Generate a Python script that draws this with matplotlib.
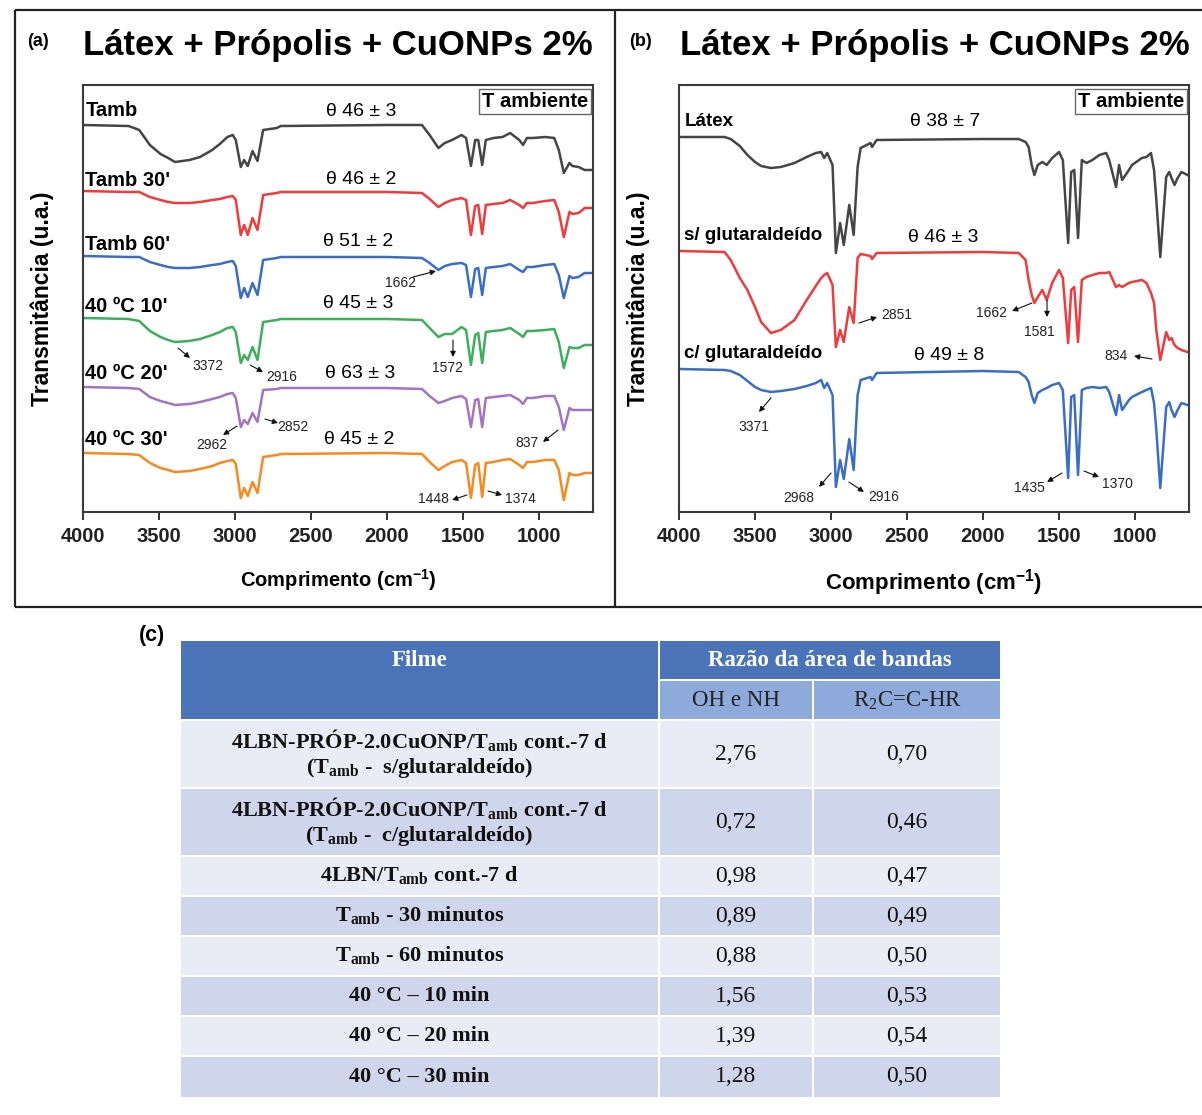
import matplotlib
matplotlib.use("Agg")
import matplotlib.pyplot as plt
from matplotlib.patches import Rectangle

plt.rcParams['font.family'] = ['Liberation Sans', 'DejaVu Sans']

# ---------------- data: panel (a) ----------------
wn_a = [4000, 3700, 3630, 3560, 3490, 3440, 3395, 3300, 3230, 3150,
        3100, 3050, 3015, 2995, 2962, 2940,
        2916, 2885, 2852, 2815, 2725, 2700, 2000, 1770, 1720, 1662,
        1620, 1572, 1510, 1480, 1448, 1420, 1400, 1374, 1350, 1300,
        1240, 1190, 1130, 1105, 1080, 1040, 960, 900, 870, 837,
        800, 780, 740, 700, 650]
t_tamb = [387, 386, 382, 367, 358, 354, 350, 352, 355, 362, 368, 375, 377, 372,
          345, 352, 346, 361, 351, 382, 384, 386, 387, 387, 377, 364,
          369, 372, 377, 374, 346, 372, 372, 347, 372, 374,
          375, 379, 372, 367, 374, 374, 375, 374, 362, 339,
          349, 346, 345, 342, 342]
t_tamb30 = [321, 320, 320, 315, 312, 310, 309, 309, 310, 312, 313, 315, 316, 312,
            277, 287, 277, 294, 282, 317, 319, 320, 320, 319, 313, 305,
            309, 312, 314, 312, 277, 306, 307, 278, 307, 308,
            309, 312, 307, 304, 309, 309, 311, 312, 300, 275,
            300, 298, 299, 304, 304]
t_tamb60 = [256, 255, 255, 250, 247, 245, 244, 244, 245, 247, 248, 250, 251, 246,
            214, 224, 215, 229, 217, 252, 254, 255, 255, 254, 249, 242,
            246, 248, 249, 247, 215, 243, 244, 217, 244, 245,
            246, 248, 242, 240, 245, 245, 247, 248, 237, 214,
            236, 234, 235, 239, 239]
t_40c10 = [194, 193, 191, 181, 175, 172, 170, 171, 173, 177, 180, 184, 185, 180,
           149, 157, 152, 165, 152, 190, 192, 193, 193, 192, 184, 175,
           178, 178, 185, 182, 147, 177, 179, 149, 180, 181,
           182, 184, 178, 175, 181, 181, 182, 183, 170, 144,
           165, 164, 164, 167, 167]
t_40c20 = [125, 124, 123, 115, 111, 109, 107, 108, 110, 113, 115, 118, 119, 114,
           85, 92, 88, 99, 90, 122, 123, 124, 124, 123, 116, 109,
           111, 114, 116, 113, 85, 112, 113, 85, 114, 115,
           116, 117, 112, 108, 114, 114, 116, 116, 105, 82,
           104, 102, 102, 102, 102]
t_40c30 = [59, 58, 57, 49, 44, 42, 40, 41, 43, 46, 49, 51, 52, 48,
           14, 24, 16, 30, 19, 55, 57, 58, 59, 58, 50, 42,
           46, 50, 52, 49, 14, 47, 49, 15, 49, 50,
           52, 53, 47, 44, 50, 50, 52, 52, 42, 12,
           39, 37, 37, 39, 39]
labels_a = ["Tamb", "Tamb 30'", "Tamb 60'", "40 ºC 10'", "40 ºC 20'", "40 ºC 30'"]
theta_a = ["θ 46 ± 3", "θ 46 ± 2", "θ 51 ± 2", "θ 45 ± 3", "θ 63 ± 3", "θ 45 ± 2"]
series_a = [t_tamb, t_tamb30, t_tamb60, t_40c10, t_40c20, t_40c30]

# ---------------- data: panel (b) ----------------
wn_b = [4000, 3700, 3660, 3600, 3550, 3500, 3460, 3395, 3330, 3240,
        3160, 3100, 3065, 3045, 3025,
        2990, 2968, 2940, 2916, 2880, 2851, 2825, 2805, 2740, 2730,
        2700, 2000, 1765, 1720, 1700, 1680, 1662, 1640, 1610, 1581,
        1545, 1500, 1475, 1440, 1420, 1400, 1375, 1350, 1320, 1280,
        1235, 1190, 1170, 1125, 1105, 1085, 1040, 1020, 955, 925,
        895, 875, 860, 834, 795, 775, 760, 740, 720, 695, 655]
t_latex = [375, 375, 373, 366, 357, 350, 346, 344, 345, 349, 355, 359, 360, 354, 359,
           347, 259, 289, 267, 307, 277, 345, 364, 369, 365,
           372, 373, 373, 370, 365, 347, 337, 347, 350, 347,
           354, 360, 352, 269, 340, 342, 274, 352, 349, 352,
           357, 359, 352, 325, 347, 332, 342, 347, 354, 355,
           359, 342, 312, 255, 335, 340, 334, 327, 334, 340, 337]
t_sglut = [261, 260, 252, 234, 222, 205, 190, 179, 182, 192, 212, 226, 234, 237, 239,
           227, 165, 182, 170, 205, 189, 254, 258, 256, 253,
           259, 260, 259, 252, 232, 217, 209, 215, 222, 212,
           229, 242, 234, 169, 222, 225, 170, 232, 235, 237,
           239, 239, 240, 225, 227, 225, 229, 230, 232, 229,
           219, 209, 182, 152, 180, 172, 174, 167, 164, 162, 160]
t_cglut = [143, 142, 141, 137, 131, 125, 122, 120, 121, 123, 126, 129, 132, 124, 129,
           117, 25, 52, 33, 73, 42, 117, 132, 135, 132,
           139, 141, 140, 135, 130, 117, 109, 119, 122, 124,
           127, 129, 122, 34, 115, 117, 37, 122, 124, 125,
           124, 125, 120, 97, 117, 102, 112, 115, 120, 122,
           124, 109, 82, 24, 105, 110, 102, 95, 102, 109, 107]
labels_b = ["Látex", "s/ glutaraldeído", "c/ glutaraldeído"]
theta_b = ["θ 38 ± 7", "θ 46 ± 3", "θ 49 ± 8"]
series_b = [t_latex, t_sglut, t_cglut]

# ---------------- data: table (c) ----------------
film_names = [
    [r"4LBN-PRÓP-2.0CuONP/T$_{\mathregular{amb}}$ cont.-7 d", r"(T$_{\mathregular{amb}}$ -  s/glutaraldeído)"],
    [r"4LBN-PRÓP-2.0CuONP/T$_{\mathregular{amb}}$ cont.-7 d", r"(T$_{\mathregular{amb}}$ -  c/glutaraldeído)"],
    [r"4LBN/T$_{\mathregular{amb}}$ cont.-7 d"],
    [r"T$_{\mathregular{amb}}$ - 30 minutos"],
    [r"T$_{\mathregular{amb}}$ - 60 minutos"],
    ["40 °C – 10 min"],
    ["40 °C – 20 min"],
    ["40 °C – 30 min"],
]
ratio_ohnh = ["2,76", "0,72", "0,98", "0,89", "0,88", "1,56", "1,39", "1,28"]
ratio_r2c = ["0,70", "0,46", "0,47", "0,49", "0,50", "0,53", "0,54", "0,50"]

# ---------------- styling / layout ----------------
colors_a = ['#454545', '#F03A3C', '#3A6EC4', '#3DAF5B', '#A374C4', '#F7891E']
colors_b = ['#454545', '#F03A3C', '#3A6EC4']
W, H = 1202, 1115
fig = plt.figure(figsize=(W / 100, H / 100), dpi=100)
bg = fig.add_axes([0, 0, 1, 1])
bg.set_xlim(0, W)
bg.set_ylim(H, 0)
bg.axis('off')

fr = dict(color='#222222', lw=1.6, solid_capstyle='butt')
bg.plot([15, W], [10, 10], **fr)
bg.plot([15, W], [607, 607], **fr)
bg.plot([15, 15], [10, 607], **fr)
bg.plot([615, 615], [10, 607], **fr)


def px_axes(x0, y0, x1, y1):
    return fig.add_axes([x0 / W, 1 - y1 / H, (x1 - x0) / W, (y1 - y0) / H])


def style_axes(ax, xlabel_size):
    ax.set_xlim(4000, 645)
    ax.set_ylim(0, 427)
    ax.set_yticks([])
    ax.set_xticks([4000, 3500, 3000, 2500, 2000, 1500, 1000])
    ax.tick_params(axis='x', direction='out', length=6, width=1.3, colors='#222222',
                   labelsize=14.5, pad=5)
    for lab in ax.get_xticklabels():
        lab.set_fontweight('bold')
    for s in ax.spines.values():
        s.set_color('#3a3a3a')
        s.set_linewidth(1.5)
    ax.set_xlabel(r"Comprimento (cm$^{\mathregular{-1}}$)", fontsize=xlabel_size,
                  fontweight='bold', labelpad=15)
    ax.set_ylabel("Transmitância (u.a.)", fontsize=16.5, fontweight='bold', labelpad=21)


def arrow(ax, tail, head):
    ax.annotate('', xy=head, xytext=tail,
                arrowprops=dict(arrowstyle='-|>', color='#111111', lw=0.8,
                                mutation_scale=8, shrinkA=0, shrinkB=0))


# ---------------- panel (a) ----------------
axa = px_axes(83, 85, 593, 512)
for t, c in zip(series_a, colors_a):
    axa.plot(wn_a, t, color=c, lw=1.8, solid_joinstyle='round')
style_axes(axa, 14.5)
lab_T_a = [401, 332, 267, 205, 138, 72]
theta_pos_a = [(2171, 401), (2171, 333), (2191, 270), (2191, 208), (2180, 138), (2180, 72)]
for lab, ty, th, (tx, tty) in zip(labels_a, lab_T_a, theta_a, theta_pos_a):
    axa.text(3985, ty, lab, fontsize=14.5, fontweight='bold', ha='left', va='center')
    axa.text(tx, tty, th, fontsize=14, ha='center', va='center')
axa.text(0.99, 0.962, "T ambiente", transform=axa.transAxes, fontsize=14.5,
         fontweight='bold', ha='right', va='center',
         bbox=dict(boxstyle='square,pad=0.15', fc='white', ec='#666666', lw=1))
ann_a = [("1662", (1914, 229), (1829, 235), (1678, 241)),
         ("3372", (3178, 146), (3375, 164), (3296, 154)),
         ("2916", (2691, 135), (2901, 147), (2816, 140)),
         ("2962", (3151, 67), (2987, 86), (3079, 77)),
         ("2852", (2618, 85), (2803, 93), (2717, 89)),
         ("1572", (1605, 144), (1566, 172), (1566, 155)),
         ("837", (1079, 69), (875, 82), (974, 70)),
         ("1448", (1697, 13), (1474, 17), (1572, 12)),
         ("1374", (1125, 13), (1336, 21), (1243, 17))]
for lab, tp, tail, head in ann_a:
    axa.text(tp[0], tp[1], lab, fontsize=10, ha='center', va='center', color='#222222')
    arrow(axa, tail, head)

# ---------------- panel (b) ----------------
axb = px_axes(679, 85, 1189, 512)
for t, c in zip(series_b, colors_b):
    axb.plot(wn_b, t, color=c, lw=1.8, solid_joinstyle='round')
style_axes(axb, 16)
lab_T_b = [390, 277, 158]
theta_pos_b = [(2250, 390), (2263, 275), (2224, 156)]
for lab, ty, th, (tx, tty) in zip(labels_b, lab_T_b, theta_b, theta_pos_b):
    axb.text(3965, ty, lab, fontsize=13.5, fontweight='bold', ha='left', va='center')
    axb.text(tx, tty, th, fontsize=14, ha='center', va='center')
axb.text(0.99, 0.962, "T ambiente", transform=axb.transAxes, fontsize=14.5,
         fontweight='bold', ha='right', va='center',
         bbox=dict(boxstyle='square,pad=0.15', fc='white', ec='#666666', lw=1))
ann_b = [("2851", (2566, 197), (2816, 189), (2697, 195)),
         ("3371", (3507, 85), (3395, 114), (3474, 100)),
         ("2968", (3211, 14), (3000, 39), (3079, 25)),
         ("2916", (2651, 15), (2882, 30), (2783, 20)),
         ("1662", (1941, 199), (1678, 209), (1809, 201)),
         ("1581", (1632, 180), (1579, 212), (1579, 195)),
         ("834", (1125, 156), (888, 153), (1007, 156)),
         ("1435", (1697, 24), (1480, 39), (1579, 30)),
         ("1370", (1118, 28), (1336, 41), (1237, 35))]
for lab, tp, tail, head in ann_b:
    axb.text(tp[0], tp[1], lab, fontsize=10, ha='center', va='center', color='#222222')
    arrow(axb, tail, head)

# titles
bg.text(38, 42, "(a)", fontsize=13, fontweight='bold', ha='center', va='center')
bg.text(641, 42, "(b)", fontsize=13, fontweight='bold', ha='center', va='center')
bg.text(338, 46, "Látex + Própolis + CuONPs 2%", fontsize=25, fontweight='bold',
        ha='center', va='center')
bg.text(935, 46, "Látex + Própolis + CuONPs 2%", fontsize=25, fontweight='bold',
        ha='center', va='center')

# ---------------- table (c) ----------------
bg.text(152, 636, "(c)", fontsize=15.5, fontweight='bold', ha='center', va='center')
serif = ['Liberation Serif', 'DejaVu Serif']
c_head = '#4A73B8'
c_sub = '#8EAADB'
c_light = '#E9EBF5'
c_dark = '#CFD5EA'
cx = [181, 658, 812, 1000]
gap = 2
bg.add_patch(Rectangle((cx[0], 641), cx[1] - cx[0], 78, fc=c_head, ec='none'))
bg.add_patch(Rectangle((cx[1] + gap, 641), cx[3] - cx[1] - gap, 38, fc=c_head, ec='none'))
bg.add_patch(Rectangle((cx[1] + gap, 681), cx[2] - cx[1] - gap, 38, fc=c_sub, ec='none'))
bg.add_patch(Rectangle((cx[2] + gap, 681), cx[3] - cx[2] - gap, 38, fc=c_sub, ec='none'))
bg.text((cx[0] + cx[1]) / 2, 661, "Filme", family=serif, fontsize=16.5, fontweight='bold',
        color='white', ha='center', va='center')
bg.text((cx[1] + cx[3]) / 2 + 1, 661, "Razão da área de bandas", family=serif, fontsize=16.5,
        fontweight='bold', color='white', ha='center', va='center')
bg.text((cx[1] + cx[2]) / 2 + 1, 701, "OH e NH", family=serif, fontsize=16.5,
        color='#222222', ha='center', va='center')
bg.text((cx[2] + cx[3]) / 2 + 1, 701, r"R$_{\mathregular{2}}$C=C-HR", family=serif, fontsize=16.5,
        color='#222222', ha='center', va='center')

row_h = [66 if len(n) == 2 else 38 for n in film_names]
row_h[-1] = 40
y = 721
for i, (names, v1, v2, h) in enumerate(zip(film_names, ratio_ohnh, ratio_r2c, row_h)):
    fc = c_light if i % 2 == 0 else c_dark
    bg.add_patch(Rectangle((cx[0], y), cx[1] - cx[0], h, fc=fc, ec='none'))
    bg.add_patch(Rectangle((cx[1] + gap, y), cx[2] - cx[1] - gap, h, fc=fc, ec='none'))
    bg.add_patch(Rectangle((cx[2] + gap, y), cx[3] - cx[2] - gap, h, fc=fc, ec='none'))
    yc = y + h / 2
    if len(names) == 2:
        bg.text((cx[0] + cx[1]) / 2, yc - 13, names[0], family=serif, fontsize=16,
                fontweight='bold', color='#111111', ha='center', va='center')
        bg.text((cx[0] + cx[1]) / 2, yc + 14, names[1], family=serif, fontsize=16,
                fontweight='bold', color='#111111', ha='center', va='center')
    else:
        bg.text((cx[0] + cx[1]) / 2, yc, names[0], family=serif, fontsize=16,
                fontweight='bold', color='#111111', ha='center', va='center')
    bg.text((cx[1] + cx[2]) / 2 + 1, yc, v1, family=serif, fontsize=17,
            color='#111111', ha='center', va='center')
    bg.text((cx[2] + cx[3]) / 2 + 1, yc, v2, family=serif, fontsize=17,
            color='#111111', ha='center', va='center')
    y += h + gap

fig.savefig("out.png", dpi=100, facecolor='white')
